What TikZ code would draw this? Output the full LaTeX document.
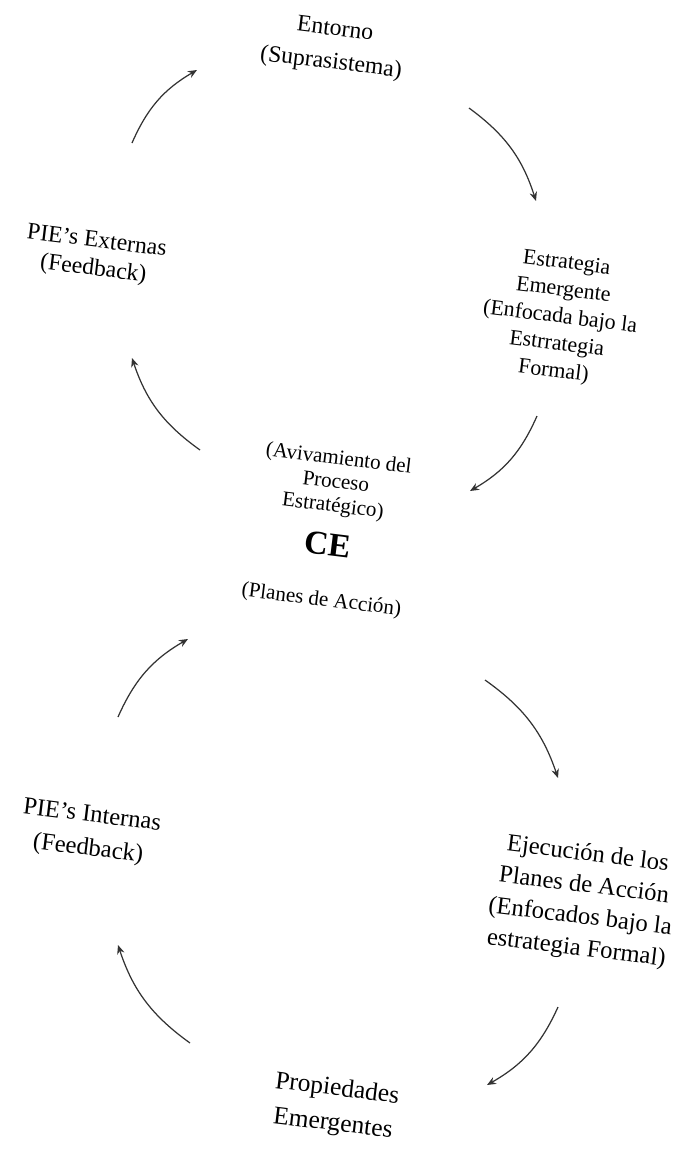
\documentclass[tikz,border=0pt]{standalone}
\usepackage{fontspec}
\setmainfont{Liberation Serif}
\usetikzlibrary{arrows.meta}
\begin{document}
\begin{tikzpicture}[x=0.02cm,y=0.02cm,
  every node/.style={align=center,rotate=-7,font=\fontsize{13.5}{17}\selectfont},
  flecha/.style={-{Stealth[length=1.8mm,width=1.5mm]},line width=0.7pt,draw=black!80,bend left=18}]
  \useasboundingbox (0,0) rectangle (684,-1156);
  \node (ent) at (333,-47) [font=\fontsize{13.5}{19}\selectfont] {Entorno\\(Suprasistema)};
  \node (est) at (560,-318) [font=\fontsize{12.5}{15.5}\selectfont] {Estrategia\\Emergente\\(Enfocada bajo la\\Estrrategia\\Formal)};
  \node (ext) at (95,-256) [font=\fontsize{13.5}{16}\selectfont] {PIE's Externas\\(Feedback)};
  \node (ce) at (330,-530) [font=\fontsize{12}{13.6}\selectfont] {(Avivamiento del\\Proceso\\Estratégico)\\[9pt]{\fontsize{19}{19}\selectfont\bfseries CE}\\[15pt](Planes de Acción)};
  \node (int) at (90,-833) [font=\fontsize{14}{19}\selectfont] {PIE's Internas\\(Feedback)};
  \node (eje) at (582,-902) [font=\fontsize{14}{18}\selectfont] {Ejecución de los\\Planes de Acción\\(Enfocados bajo la\\estrategia Formal)};
  \node (prop) at (335,-1107) [font=\fontsize{14.5}{20}\selectfont] {Propiedades\\Emergentes};
  \coordinate (ext-out) at (132,-143);
  \coordinate (ent-in) at (197,-70);
  \coordinate (ent-out) at (469,-108);
  \coordinate (est-in) at (536,-201);
  \coordinate (est-out) at (537,-416);
  \coordinate (ce-in1) at (470,-491);
  \coordinate (ce-out1) at (200,-450);
  \coordinate (ext-in) at (132,-358);
  \coordinate (int-out) at (118,-717);
  \coordinate (ce-in2) at (188,-639);
  \coordinate (ce-out2) at (485,-680);
  \coordinate (eje-in) at (558,-778);
  \coordinate (eje-out) at (558,-1007);
  \coordinate (prop-in) at (487,-1085);
  \coordinate (prop-out) at (190,-1043);
  \coordinate (int-in) at (118,-945);
  \draw[flecha] (ext-out) to (ent-in);
  \draw[flecha] (ent-out) to (est-in);
  \draw[flecha] (est-out) to (ce-in1);
  \draw[flecha] (ce-out1) to (ext-in);
  \draw[flecha] (int-out) to (ce-in2);
  \draw[flecha] (ce-out2) to (eje-in);
  \draw[flecha] (eje-out) to (prop-in);
  \draw[flecha] (prop-out) to (int-in);
\end{tikzpicture}
\end{document}
